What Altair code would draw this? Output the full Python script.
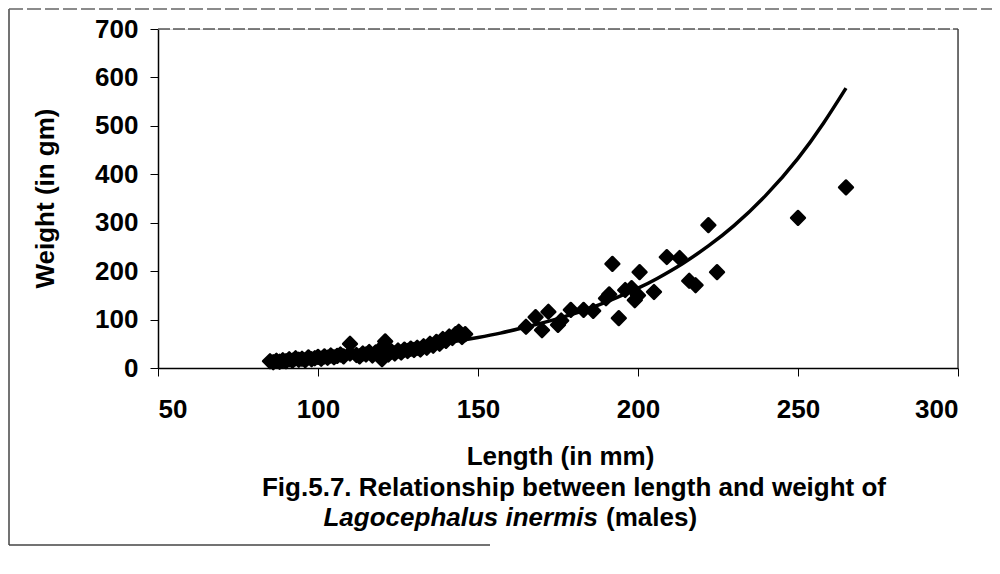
import altair as alt
import pandas as pd

# observed points (length mm, weight g)
length = [85, 86, 87, 88, 89, 90, 91, 92, 93, 94, 95, 96, 97, 98, 99, 100, 101, 102, 103, 104,
          105, 106, 107, 108, 110, 110, 112, 113, 114, 115, 116, 117, 118, 119, 120, 120, 121, 121,
          122, 123, 124, 125, 126, 127, 128, 129, 130, 131, 132, 133, 134, 135, 136, 137, 138, 139,
          140, 141, 142, 143, 144, 145, 146,
          165, 168, 170, 172, 175, 176, 179, 183, 186, 190, 191, 192, 194, 196, 198, 199, 200, 200.5,
          205, 209, 213, 216, 218, 222, 224.7, 250, 265]
weight = [14, 12, 15, 13, 16, 14, 18, 15, 20, 17, 19, 16, 22, 18, 20, 23, 19, 24, 21, 26,
          22, 25, 28, 24, 50, 30, 27, 24, 30, 28, 33, 26, 32, 36, 18, 30, 55, 40,
          28, 34, 30, 36, 32, 38, 35, 40, 37, 42, 38, 45, 42, 50, 46, 54, 50, 60,
          56, 65, 62, 70, 75, 64, 70,
          85, 105, 78, 116, 89, 98, 120, 120, 118, 144, 152, 215, 103, 161, 165, 140, 150, 198,
          157, 229, 227, 180, 171, 295, 198, 310, 373]

# fitted trend curve
curve_length = [85, 100, 115, 130, 140, 150, 157, 164, 175, 188, 200, 206, 214, 222, 230, 240, 250, 258, 265]
curve_weight = [18, 24, 32, 43, 52, 63, 72, 83, 102, 131, 165, 185, 216, 252, 294, 357, 433, 506, 578]

x_ticks = [50, 100, 150, 200, 250, 300]
y_ticks = [0, 100, 200, 300, 400, 500, 600, 700]

pts = pd.DataFrame({"L": length, "W": weight})
crv = pd.DataFrame({"L": curve_length, "W": curve_weight})

FONT = "Liberation Sans"
FS = 26
W, H = 800, 339

xs = alt.Scale(domain=[50, 300], nice=False, zero=False)
ys = alt.Scale(domain=[0, 700], nice=False)

xaxis = alt.Axis(values=x_ticks, title="Length (in mm)", grid=False, domainColor="black",
                 domainWidth=1.5, tickColor="black", tickSize=8, labelPadding=20,
                 labelFont=FONT, labelFontSize=FS, labelFontWeight="bold", labelColor="black",
                 titleFont=FONT, titleFontSize=FS, titleFontWeight="bold", titleColor="black",
                 titleX=402, titleY=88, titleBaseline="middle", titleAnchor="middle")
yaxis = alt.Axis(values=y_ticks, title="Weight (in gm)", grid=False, domainColor="black",
                 domainWidth=1.5, tickColor="black", tickSize=8, labelPadding=12,
                 labelFont=FONT, labelFontSize=FS, labelFontWeight="bold", labelColor="black",
                 titleFont=FONT, titleFontSize=FS, titleFontWeight="bold", titleColor="black",
                 titleX=-113, titleY=169, titleBaseline="middle", titleAnchor="middle")

scatter = alt.Chart(pts).mark_point(shape="diamond", filled=True, color="black", size=190,
                                    opacity=1, stroke="black", strokeWidth=2.5,
                                    strokeJoin="round").encode(
    x=alt.X("L:Q", scale=xs, axis=xaxis),
    y=alt.Y("W:Q", scale=ys, axis=yaxis),
)

line = alt.Chart(crv).mark_line(color="black", strokeWidth=3.5, interpolate="natural").encode(
    x=alt.X("L:Q", scale=xs),
    y=alt.Y("W:Q", scale=ys),
)

one = pd.DataFrame({"a": [0]})
# plot-area border (top and right)
top_border = alt.Chart(one).mark_rule(color="#555555", strokeWidth=1.5, strokeDash=[12, 3]).encode(
    x=alt.value(0), x2=alt.value(W), y=alt.value(0))
right_border = alt.Chart(one).mark_rule(color="#444444", strokeWidth=1.5).encode(
    x=alt.value(W), y=alt.value(0), y2=alt.value(H))
# outer figure frame
frame_left = alt.Chart(one).mark_rule(color="#444444", strokeWidth=1.5).encode(
    x=alt.value(-149), y=alt.value(-20), y2=alt.value(516))
frame_top = alt.Chart(one).mark_rule(color="#666666", strokeWidth=1.5, strokeDash=[14, 4]).encode(
    x=alt.value(-149), x2=alt.value(835), y=alt.value(-20))
frame_bottom = alt.Chart(one).mark_rule(color="#444444", strokeWidth=1.5).encode(
    x=alt.value(-149), x2=alt.value(332), y=alt.value(516))

cap1 = alt.Chart(one).mark_text(text="Fig.5.7. Relationship between length and weight of",
                                font=FONT, fontSize=FS, fontWeight="bold", color="black",
                                align="center", baseline="middle").encode(
    x=alt.value(416), y=alt.value(459))
cap2a = alt.Chart(one).mark_text(text="Lagocephalus inermis", font=FONT, fontSize=FS,
                                 fontWeight="bold", fontStyle="italic", color="black",
                                 align="right", baseline="middle").encode(
    x=alt.value(440), y=alt.value(489))
cap2b = alt.Chart(one).mark_text(text="(males)", font=FONT, fontSize=FS, fontWeight="bold",
                                 color="black", align="left", baseline="middle").encode(
    x=alt.value(448), y=alt.value(489))

chart = alt.layer(top_border, right_border, frame_left, frame_top, frame_bottom,
                  line, scatter, cap1, cap2a, cap2b).properties(
    width=W, height=H,
    autosize=alt.AutoSizeParams(type="none"),
    padding={"left": 150, "top": 21, "right": 34, "bottom": 198},
).configure_view(stroke=None).configure(background="white")

chart.save("out.html", embed_options={"renderer": "svg", "actions": False})
